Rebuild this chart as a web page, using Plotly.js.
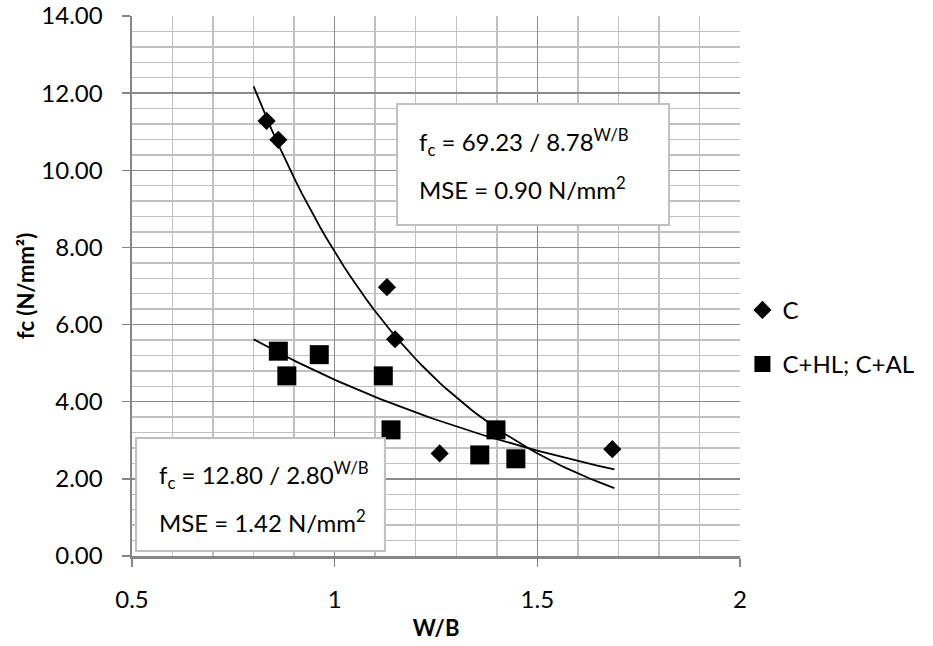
<!DOCTYPE html>
<html>
<head>
<meta charset="utf-8">
<script src="https://cdn.plot.ly/plotly-3.0.1.min.js"></script>
<style>html,body{margin:0;padding:0;background:#fff;}#chart{width:933px;height:646px;}</style>
</head>
<body>
<div id="chart"></div>
<script>
// ---- data ----
const seriesNames = ["C", "C+HL; C+AL"];
const cX = [0.832, 0.861, 1.129, 1.149, 1.259, 1.685];
const cY = [11.28, 10.79, 6.97, 5.62, 2.66, 2.77];
const hlX = [0.861, 0.882, 0.962, 1.120, 1.139, 1.358, 1.398, 1.447];
const hlY = [5.31, 4.67, 5.22, 4.67, 3.27, 2.62, 3.27, 2.52];
// exponential fits printed on the chart: fc = a / b^(W/B)
const fitC = [69.23, 8.78];
const fitHL = [12.80, 2.80];
const mseC = 0.90;
const mseHL = 1.42;
const fitRange = [0.8, 1.69];

function fitCurve(p) {
  const xs = [], ys = [];
  const n = 60;
  for (let i = 0; i <= n; i++) {
    const x = fitRange[0] + (fitRange[1] - fitRange[0]) * i / n;
    xs.push(x);
    ys.push(p[0] / Math.pow(p[1], x));
  }
  return {xs, ys};
}
const fc = fitCurve(fitC), fh = fitCurve(fitHL);

const FONT = 'Lato, "Open Sans", sans-serif';
const traces = [
  {x: cX, y: cY, type: 'scatter', mode: 'markers', name: seriesNames[0], legendgroup: 'g1',
   marker: {symbol: 'diamond', size: 14, color: '#000'}},
  {x: hlX, y: hlY, type: 'scatter', mode: 'markers', name: seriesNames[1], legendgroup: 'g2',
   marker: {symbol: 'square', size: 19, color: '#000'}},
  {x: fc.xs, y: fc.ys, type: 'scatter', mode: 'lines', showlegend: false, hoverinfo: 'skip',
   line: {color: '#000', width: 1.8}},
  {x: fh.xs, y: fh.ys, type: 'scatter', mode: 'lines', showlegend: false, hoverinfo: 'skip',
   line: {color: '#000', width: 1.8}}
];

const eq = (p) => 'f<sub>c</sub> = ' + p[0].toFixed(2) + ' / ' + p[1].toFixed(2) + '<sup>W/B</sup>';
const mse = (v) => 'MSE = ' + v.toFixed(2) + ' N/mm<sup>2</sup>';
const annFont = {family: FONT, size: 24, color: '#000'};

const layout = {
  width: 933, height: 646,
  margin: {l: 132, r: 193, t: 16, b: 90},
  paper_bgcolor: '#fff', plot_bgcolor: '#fff',
  font: {family: FONT, size: 24, color: '#000'},
  showlegend: true,
  legend: {x: 1.004, xanchor: 'left', y: 0.405, yanchor: 'middle', tracegroupgap: 20,
           font: {family: FONT, size: 24, color: '#000'}, itemwidth: 30, bgcolor: 'rgba(0,0,0,0)'},
  xaxis: {
    range: [0.5, 2], tick0: 0.5, dtick: 0.5, showline: true, linecolor: '#868686', linewidth: 2.5,
    ticks: 'outside', ticklen: 8, tickcolor: '#868686', tickwidth: 1.5, ticklabelstandoff: 13,
    showgrid: true, gridcolor: '#8a8a8a', gridwidth: 1.5, zeroline: false,
    minor: {dtick: 0.1, showgrid: true, gridcolor: '#c0c0c0', gridwidth: 1.5, ticks: ''},
    tickfont: {family: FONT, size: 24, color: '#000'},
    title: {text: '<b>W/B</b>', font: {family: FONT, size: 22, color: '#000'}, standoff: 9}
  },
  yaxis: {
    range: [0, 14], tick0: 0, dtick: 2, tickformat: '.2f', showline: true, linecolor: '#868686', linewidth: 2.5,
    ticks: 'outside', ticklen: 8, tickcolor: '#868686', tickwidth: 1.5, ticklabelstandoff: 14,
    showgrid: true, gridcolor: '#8a8a8a', gridwidth: 1.5, zeroline: false,
    minor: {dtick: 0.4, showgrid: true, gridcolor: '#c0c0c0', gridwidth: 1.5, ticks: ''},
    tickfont: {family: FONT, size: 24, color: '#000'},
    title: {text: '<b>fc (N/mm²)</b>', font: {family: FONT, size: 22, color: '#000'}, standoff: 1}
  },
  shapes: [
    {type: 'rect', xref: 'x', yref: 'y', x0: 1.154, x1: 1.825, y0: 8.58, y1: 11.72,
     fillcolor: '#fff', line: {color: '#bfbfbf', width: 2}, layer: 'above'},
    {type: 'rect', xref: 'x', yref: 'y', x0: 0.51, x1: 1.124, y0: 0.13, y1: 3.06,
     fillcolor: '#fff', line: {color: '#bfbfbf', width: 2}, layer: 'above'}
  ],
  annotations: [
    {xref: 'x', yref: 'y', x: 1.203, y: 10.73, xanchor: 'left', yanchor: 'middle', showarrow: false, text: eq(fitC), font: annFont},
    {xref: 'x', yref: 'y', x: 1.203, y: 9.54, xanchor: 'left', yanchor: 'middle', showarrow: false, text: mse(mseC), font: annFont},
    {xref: 'x', yref: 'y', x: 0.562, y: 2.10, xanchor: 'left', yanchor: 'middle', showarrow: false, text: eq(fitHL), font: annFont},
    {xref: 'x', yref: 'y', x: 0.562, y: 0.91, xanchor: 'left', yanchor: 'middle', showarrow: false, text: mse(mseHL), font: annFont}
  ]
};

Plotly.newPlot('chart', traces, layout, {displayModeBar: false, staticPlot: true});
</script>
</body>
</html>
